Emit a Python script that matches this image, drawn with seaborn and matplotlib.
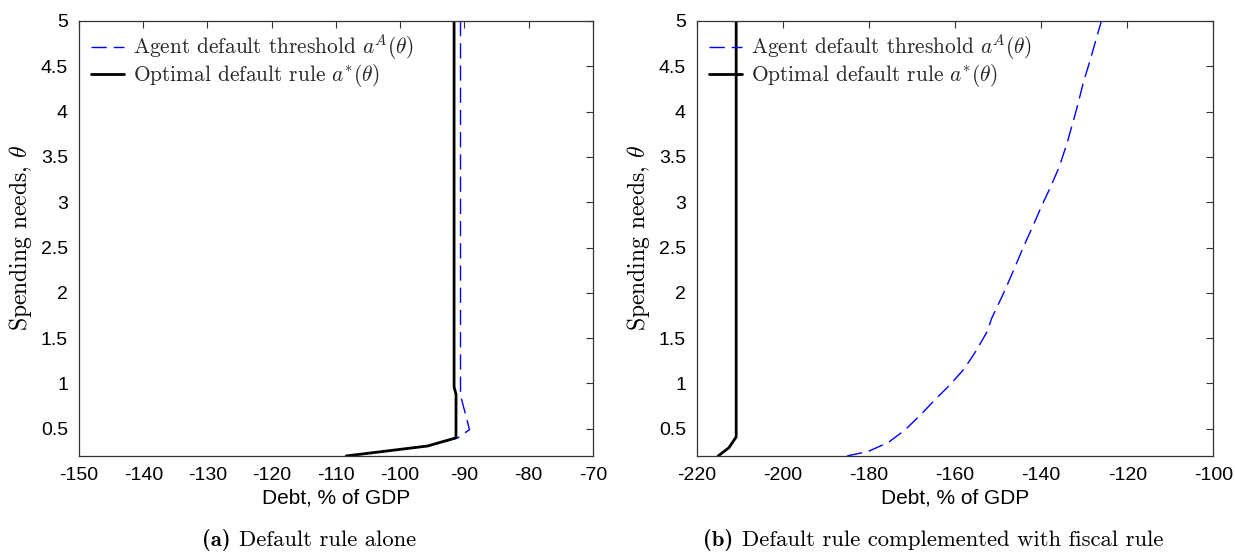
import numpy as np
import pandas as pd
import seaborn as sns
import matplotlib.pyplot as plt

# === data ===
# (a) default rule alone
theta_opt_a = [5.0, 0.96, 0.88, 0.40, 0.31, 0.20]
debt_opt_a = [-91.6, -91.6, -91.3, -91.3, -95.7, -108.4]
theta_agent_a = [5.0, 0.87, 0.49, 0.40, 0.31, 0.20]
debt_agent_a = [-90.6, -90.6, -89.2, -91.0, -95.7, -108.4]

# (b) default rule + fiscal rule
theta_opt_b = [5.0, 0.41, 0.29, 0.20]
debt_opt_b = [-210.9, -210.9, -212.6, -215.1]
theta_agent_b = [0.20, 0.25, 0.35, 0.49, 0.65, 0.82, 0.98, 1.15, 1.26, 1.37,
                 1.57, 1.72, 1.99, 2.25, 2.51, 2.75, 2.97, 3.16, 3.39, 3.65,
                 4.02, 4.32, 4.57, 4.82, 5.0]
debt_agent_b = [-185.1, -180.2, -175.5, -171.6, -168.1, -164.7, -161.3, -158.1,
                -156.5, -155.0, -152.6, -151.5, -148.8, -146.4, -144.1, -141.8,
                -139.8, -137.9, -135.8, -134.0, -131.8, -130.2, -128.6, -127.1,
                -126.0]

yticks = [0.5, 1, 1.5, 2, 2.5, 3, 3.5, 4, 4.5, 5]
ytick_labels = ["0.5", "1", "1.5", "2", "2.5", "3", "3.5", "4", "4.5", "5"]
xticks_a = [-150, -140, -130, -120, -110, -100, -90, -80, -70]
xticks_b = [-220, -200, -180, -160, -140, -120, -100]

label_agent = r"Agent default threshold $a^A(\theta)$"
label_opt = r"Optimal default rule $a^{*}(\theta)$"
cap_tags = ["(a)", "(b)"]
cap_texts = ["Default rule alone", "Default rule complemented with fiscal rule"]

sns.set_style("white")
plt.rcParams["font.family"] = ["Liberation Sans", "DejaVu Sans"]
plt.rcParams["mathtext.fontset"] = "cm"
plt.rcParams["axes.unicode_minus"] = False
serif = "cmr10"

fig = plt.figure(figsize=(12.35, 5.52), dpi=100)
ax_a = fig.add_axes([0.064, 0.174, 0.416, 0.788])
ax_b = fig.add_axes([0.5644, 0.174, 0.418, 0.788])

panels = [
    (ax_a, debt_agent_a, theta_agent_a, debt_opt_a, theta_opt_a, xticks_a, (-150, -70)),
    (ax_b, debt_agent_b, theta_agent_b, debt_opt_b, theta_opt_b, xticks_b, (-220, -100)),
]

for ax, xa, ya, xo, yo, xt, xl in panels:
    sns.lineplot(x=xa, y=ya, sort=False, estimator=None, ax=ax, color="#0000ff",
                 lw=1.0, linestyle=(0, (11, 5)), label=label_agent)
    sns.lineplot(x=xo, y=yo, sort=False, estimator=None, ax=ax, color="black",
                 lw=2.0, label=label_opt)
    ax.set_xlim(*xl)
    ax.set_ylim(0.2, 5)
    ax.set_xticks(xt)
    ax.set_xticklabels([str(v) for v in xt])
    ax.set_yticks(yticks)
    ax.set_yticklabels(ytick_labels)
    ax.tick_params(direction="in", top=True, right=True, length=5, width=0.8,
                   labelsize=14, color="#333333", labelcolor="black", pad=8)
    for s in ax.spines.values():
        s.set_color("#333333")
        s.set_linewidth(0.9)
    ax.set_xlabel("Debt, % of GDP", fontsize=15, labelpad=3, color="black")
    ax.set_ylabel(r"Spending needs, $\theta$", fontsize=17, family=serif,
                  labelpad=5, color="black")
    ax.legend(loc="upper left", frameon=False, prop={"family": serif, "size": 15.4},
              handlelength=1.55, handletextpad=0.4, labelspacing=0.0,
              borderaxespad=0.2, borderpad=0.35)

# captions: bold tag + roman text
for tag, txt, x0 in zip(cap_tags, cap_texts, [0.1636, 0.5692]):
    t = fig.text(x0, 0.011, tag, ha="left", va="baseline", fontsize=16.3,
                 family="cmb10", color="black")
    fig.canvas.draw()
    bb = t.get_window_extent()
    x1 = fig.transFigure.inverted().transform((bb.x1, bb.y0))[0]
    fig.text(x1 + 0.007, 0.011, txt, ha="left", va="baseline", fontsize=16.3,
             family=serif, color="black")

fig.savefig("out.png", dpi=100)
